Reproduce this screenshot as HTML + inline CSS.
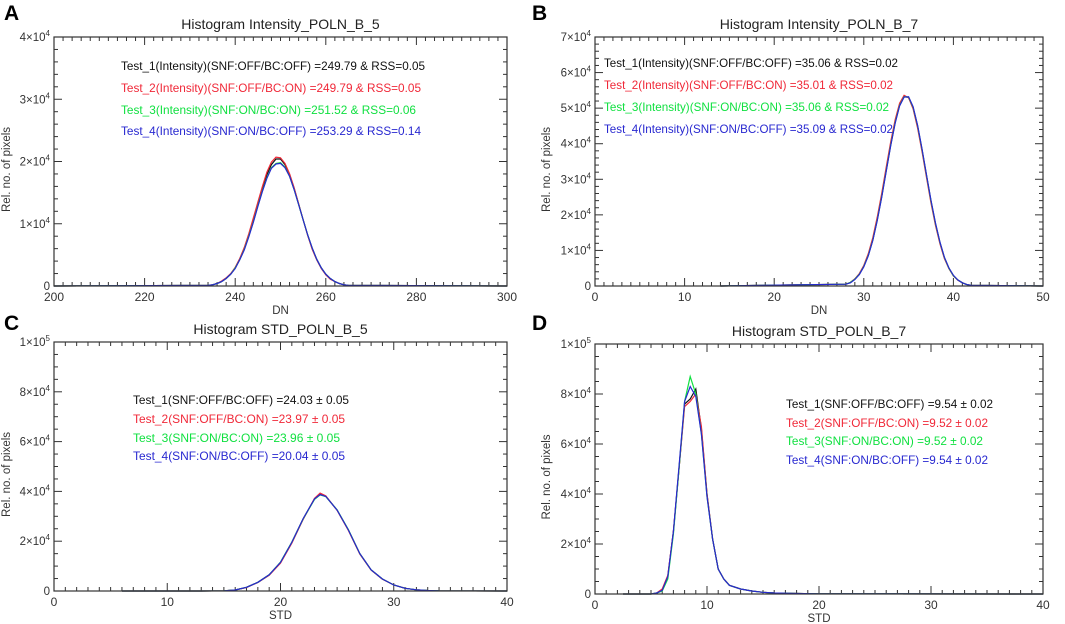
<!DOCTYPE html>
<html><head><meta charset="utf-8"><style>
html,body{margin:0;padding:0;background:#fff;width:1065px;height:624px;overflow:hidden}
svg{display:block;font-family:"Liberation Sans","DejaVu Sans",sans-serif}
</style></head><body>
<svg id="fig" width="1065" height="624" viewBox="0 0 1065 624"></svg>
<script>
// ---- Panel A data ----
const aX = [200,234,235,236,237,238,239,240,241,242,243,244,245,246,247,248,249,250,251,252,253,254,255,256,257,258,259,260,261,262,263,264,265,300];
const aT1 = [0,0.1,0.2,0.4,0.7,1.2,1.9,2.9,4.3,6.0,8.2,10.6,13.2,15.7,17.9,19.5,20.4,20.4,19.5,17.9,15.7,13.2,10.6,8.2,6.0,4.3,2.9,1.9,1.2,0.7,0.4,0.2,0.1,0];
const aT2 = [0,0.1,0.2,0.4,0.8,1.3,2.0,3.0,4.4,6.2,8.4,10.9,13.5,16.0,18.3,19.9,20.7,20.6,19.7,18.0,15.8,13.2,10.6,8.1,5.9,4.2,2.8,1.8,1.1,0.7,0.4,0.2,0.1,0];
const aT3 = [0,0.1,0.2,0.4,0.7,1.2,1.9,2.9,4.2,5.9,8.0,10.3,12.9,15.3,17.4,19.0,19.7,19.8,19.1,17.6,15.5,13.1,10.6,8.2,6.1,4.3,2.9,1.9,1.2,0.7,0.4,0.2,0.1,0];
const aT4 = [0,0.1,0.2,0.4,0.7,1.2,1.9,2.8,4.2,5.8,7.9,10.2,12.8,15.2,17.3,18.9,19.6,19.7,19.0,17.6,15.5,13.1,10.6,8.2,6.1,4.3,2.9,1.9,1.2,0.7,0.4,0.2,0.1,0];
const aYTicks = [0,1,2,3,4];
const aXTicks = [200,220,240,260,280,300];
// ---- Panel B data ----
const bX = [14,28,28.5,29,29.5,30,30.5,31,31.5,32,32.5,33,33.5,34,34.5,35,35.5,36,36.5,37,37.5,38,38.5,39,39.5,40,40.5,41,41.5,42,50];
const bT1 = [0,0.5,1.0,1.9,3.3,5.5,8.7,13.0,18.6,25.2,32.5,39.7,46.1,50.9,53.3,53.0,50.1,44.9,38.3,31.0,23.8,17.4,12.1,7.9,5.0,2.9,1.7,0.9,0.4,0.2,0];
const bT2 = [0,0.5,1.0,2.0,3.5,5.8,9.1,13.6,19.3,26.0,33.4,40.5,46.8,51.4,53.6,52.9,49.8,44.4,37.8,30.5,23.3,17.0,11.8,7.7,4.9,2.8,1.6,0.9,0.4,0.2,0];
const bT3 = [0,0.5,1.0,1.9,3.3,5.5,8.6,12.9,18.5,25.1,32.4,39.6,46.0,50.8,53.2,53.1,50.2,45.0,38.4,31.1,23.9,17.5,12.2,8.0,5.0,2.9,1.7,0.9,0.4,0.2,0];
const bT4 = [0,0.5,0.9,1.8,3.2,5.4,8.5,12.8,18.3,24.9,32.2,39.4,45.8,50.6,53.1,53.2,50.4,45.2,38.6,31.3,24.1,17.7,12.3,8.1,5.1,3.0,1.7,0.9,0.4,0.2,0];
const bYTicks = [0,1,2,3,4,5,6,7];
const bXTicks = [0,10,20,30,40,50];
// ---- Panel C data ----
const cX = [6,13,15,16,17,18,19,20,21,22,23,23.5,24,25,26,27,28,29,30,31,32,33,34,40];
const cT1 = [0,0,0.1,0.4,1.5,3.5,6.5,11.5,19.5,29.0,37.0,38.8,38.0,32.5,24.5,15.0,8.5,4.8,2.4,1.1,0.5,0.2,0.1,0];
const cT2 = [0,0,0.1,0.4,1.4,3.4,6.3,11.2,19.2,28.8,37.2,39.3,38.2,32.4,24.3,14.8,8.4,4.7,2.4,1.1,0.5,0.2,0.1,0];
const cT3 = [0,0,0.1,0.4,1.5,3.5,6.5,11.6,19.6,29.0,36.8,38.6,37.9,32.6,24.6,15.0,8.5,4.8,2.4,1.1,0.5,0.2,0.1,0];
const cT4 = [0,0,0.1,0.4,1.5,3.5,6.5,11.5,19.5,29.1,37.0,38.7,38.0,32.5,24.5,15.0,8.5,4.8,2.4,1.1,0.5,0.2,0.1,0];
const cYTicks = [0,2,4,6,8,10];
const cXTicks = [0,10,20,30,40];
// ---- Panel D data ----
const dX = [2.5,5,5.5,6,6.5,7,7.5,8,8.5,9,9.5,10,10.5,11,11.5,12,13,14,15,16,18,20,40];
const dT1 = [0,0,0.3,1.5,7,25,50,76,78,82,66,40,22,10,6,3.5,2.0,1.2,0.7,0.4,0.2,0.1,0];
const dT2 = [0,0,0.4,2.0,7.5,25,50,75,77,80,67,40,22,10,6,3.5,2.0,1.2,0.7,0.4,0.2,0.1,0];
const dT3 = [0,0,0.4,1.2,6,24,50,77,87,80,64,39,22,10,6,3.5,2.0,1.2,0.7,0.4,0.2,0.1,0];
const dT4 = [0,0,0.4,1.5,7,25,51,77,83,79,64,39,22,10,6,3.5,2.0,1.2,0.7,0.4,0.2,0.1,0];
const dYTicks = [0,2,4,6,8,10];
const dXTicks = [0,10,20,30,40];

const NS = 'http://www.w3.org/2000/svg';
const svg = document.getElementById('fig');
const COLORS = ['#111111','#f02838','#10e040','#2828d0'];
function mk(tag, attrs, parent){
  const e = document.createElementNS(NS, tag);
  for (const k in attrs) e.setAttribute(k, attrs[k]);
  (parent||svg).appendChild(e);
  return e;
}
function panel(cfg){
  const g = mk('g', {});
  
  
  const {x0,x1,y0,y1,xmin,xmax,ymax} = cfg;
  const sx = v => x0 + (v - xmin) / (xmax - xmin) * (x1 - x0);
  const sy = v => y1 - v / ymax * (y1 - y0);
  const letter = mk('text', {x: cfg.lx, y: cfg.ly, 'font-size': 21, 'font-weight': 'bold', fill: '#000'}, g);
  letter.textContent = cfg.id;
  
  
  const title = mk('text', {x: (x0+x1)/2, y: y0 - 8, 'font-size': 14, 'text-anchor': 'middle', fill: '#222'}, g);
  title.textContent = cfg.title;
  
  
  const tk = mk('g', {stroke: '#333', 'stroke-width': 1}, g);
  
  
  for (let i = 0; i <= cfg.xMinorN; i++){
    const v = xmin + i * (xmax - xmin) / cfg.xMinorN;
    const major = cfg.xTicks.some(t => Math.abs(t - v) < 1e-6);
    const L = major ? 8 : 4;
    mk('line', {x1: sx(v), x2: sx(v), y1: y1, y2: y1 - L}, tk);
    mk('line', {x1: sx(v), x2: sx(v), y1: y0, y2: y0 + L}, tk);
  }
  for (let i = 0; i <= cfg.yMinorN; i++){
    const v = i * ymax / cfg.yMinorN;
    const major = cfg.yTicks.some(t => Math.abs(t * cfg.yUnit - v) < 1e-6);
    const L = major ? 8 : 4;
    mk('line', {x1: x0, x2: x0 + L, y1: sy(v), y2: sy(v)}, tk);
    mk('line', {x1: x1, x2: x1 - L, y1: sy(v), y2: sy(v)}, tk);
  }
  cfg.xTicks.forEach(t => {
    const tl = mk('text', {x: sx(t), y: y1 + 15, 'font-size': 12, 'text-anchor': 'middle', fill: '#333'}, g);
    tl.textContent = t;
    
    
  });
  cfg.yTicks.forEach(t => {
    const tl = mk('text', {x: x0 - 4, y: sy(t * cfg.yUnit) + 4, 'font-size': 11.5, 'text-anchor': 'end', fill: '#333'}, g);
    
    
    if (t === 0) { tl.textContent = '0'; return; }
    let m = t, e = cfg.yExp;
    if (t === 10) { m = 1; e = 5; }
    const a = mk('tspan', {}, tl); a.textContent = m + '\u00d710';
    const b = mk('tspan', {'font-size': 8, dy: -5}, tl); b.textContent = e;
  });
  const xl = mk('text', {x: (x0+x1)/2, y: y1 + 28, 'font-size': 11.5, 'text-anchor': 'middle', fill: '#333'}, g);
  xl.textContent = cfg.xLabel;
  
  
  const yl = mk('text', {x: 0, y: 0, 'font-size': 11.5, 'text-anchor': 'middle', fill: '#333',
    transform: 'translate(' + cfg.ylx + ',' + ((y0+y1)/2 + 8) + ') rotate(-90)'}, g);
  yl.textContent = 'Rel. no. of pixels';
  
  
  cfg.series.forEach((s, i) => {
    const pts = cfg.xs.map((x, j) => sx(x).toFixed(1) + ',' + sy(s[j] * 1000).toFixed(1)).join(' ');
    const pl = mk('polyline', {points: pts, fill: 'none', stroke: COLORS[i], 'stroke-width': 1.2}, g);
    
    
  });
  mk('rect', {x: x0, y: y0, width: x1 - x0, height: y1 - y0, fill: 'none', stroke: '#333', 'stroke-width': 1.2}, g);
  cfg.legend.forEach((L, i) => {
    const t = mk('text', {x: cfg.legX, y: cfg.legY[i], 'font-size': 12, fill: COLORS[i],
      textLength: L[1] - cfg.legX, lengthAdjust: 'spacingAndGlyphs'}, g);
    t.textContent = L[0];
    
    
  });
}
panel({id:'A', lx:4, ly:20, title:'Histogram Intensity_POLN_B_5', x0:54, x1:507, y0:37, y1:286,
  xmin:200, xmax:300, ymax:40000, yUnit:10000, yExp:4, xTicks:aXTicks, yTicks:aYTicks, xMinorN:50, yMinorN:20,
  xLabel:'DN', ylx:10, xs:aX, series:[aT1,aT2,aT3,aT4], legX:121, legY:[70,92,114,135],
  legend:[['Test_1(Intensity)(SNF:OFF/BC:OFF) =249.79 & RSS=0.05',425],['Test_2(Intensity)(SNF:OFF/BC:ON) =249.79 & RSS=0.05',421],
    ['Test_3(Intensity)(SNF:ON/BC:ON) =251.52 & RSS=0.06',416],['Test_4(Intensity)(SNF:ON/BC:OFF) =253.29 & RSS=0.14',421]]});
panel({id:'B', lx:532, ly:20, title:'Histogram Intensity_POLN_B_7', x0:595, x1:1043, y0:37, y1:286,
  xmin:0, xmax:50, ymax:70000, yUnit:10000, yExp:4, xTicks:bXTicks, yTicks:bYTicks, xMinorN:50, yMinorN:35,
  xLabel:'DN', ylx:550, xs:bX, series:[bT1,bT2,bT3,bT4], legX:604, legY:[67,89,111,133],
  legend:[['Test_1(Intensity)(SNF:OFF/BC:OFF) =35.06 & RSS=0.02',898],['Test_2(Intensity)(SNF:OFF/BC:ON) =35.01 & RSS=0.02',893],
    ['Test_3(Intensity)(SNF:ON/BC:ON) =35.06 & RSS=0.02',889],['Test_4(Intensity)(SNF:ON/BC:OFF) =35.09 & RSS=0.02',893]]});
panel({id:'C', lx:4, ly:330, title:'Histogram STD_POLN_B_5', x0:54, x1:507, y0:342, y1:591,
  xmin:0, xmax:40, ymax:100000, yUnit:10000, yExp:4, xTicks:cXTicks, yTicks:cYTicks, xMinorN:40, yMinorN:20,
  xLabel:'STD', ylx:10, xs:cX, series:[cT1,cT2,cT3,cT4], legX:133, legY:[404,423,442,460],
  legend:[['Test_1(SNF:OFF/BC:OFF) =24.03 \u00b1 0.05',349],['Test_2(SNF:OFF/BC:ON) =23.97 \u00b1 0.05',345],
    ['Test_3(SNF:ON/BC:ON) =23.96 \u00b1 0.05',340],['Test_4(SNF:ON/BC:OFF) =20.04 \u00b1 0.05',345]]});
panel({id:'D', lx:532, ly:330, title:'Histogram STD_POLN_B_7', x0:595, x1:1043, y0:344, y1:594,
  xmin:0, xmax:40, ymax:100000, yUnit:10000, yExp:4, xTicks:dXTicks, yTicks:dYTicks, xMinorN:40, yMinorN:20,
  xLabel:'STD', ylx:550, xs:dX, series:[dT1,dT2,dT3,dT4], legX:786, legY:[408,427,445,464],
  legend:[['Test_1(SNF:OFF/BC:OFF) =9.54 \u00b1 0.02',993],['Test_2(SNF:OFF/BC:ON) =9.52 \u00b1 0.02',988],
    ['Test_3(SNF:ON/BC:ON) =9.52 \u00b1 0.02',983],['Test_4(SNF:ON/BC:OFF) =9.54 \u00b1 0.02',988]]});
</script>
</body></html>
